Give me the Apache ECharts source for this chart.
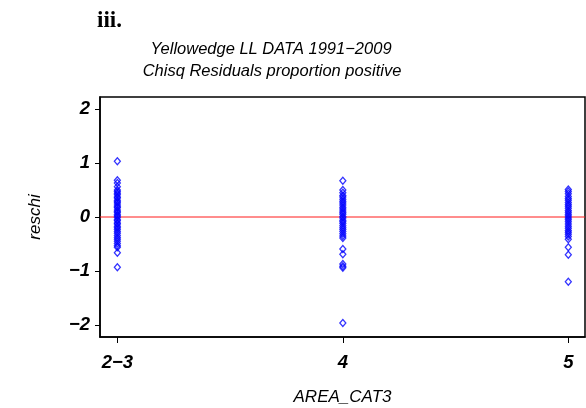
<!DOCTYPE html>
<html>
<head>
<meta charset="utf-8">
<script src="https://cdn.jsdelivr.net/npm/echarts@6/dist/echarts.min.js"></script>
<style>
  html, body { margin: 0; padding: 0; background: #fff; }
  #main { width: 586px; height: 408px; }
</style>
</head>
<body>
<div id="main"></div>
<script>
// area categories on the x axis
var categories = ['2\u22123', '4', '5'];
var yTicks = [-2, -1, 0, 1, 2];

// chi-square residuals, one list per area
var resid23 = [1.03, 0.68, 0.63, 0.56, 0.50, 0.47, 0.44, 0.41, 0.37, 0.35, 0.31, 0.28, 0.26, 0.22,
    0.19, 0.17, 0.13, 0.10, 0.08, 0.04, 0.02, -0.01, -0.05, -0.07, -0.11, -0.13, -0.17, -0.20,
    -0.23, -0.27, -0.30, -0.34, -0.38, -0.41, -0.45, -0.49, -0.53, -0.56, -0.66, -0.93];
var resid4 = [0.67, 0.50, 0.45, 0.40, 0.37, 0.33, 0.29, 0.26, 0.22, 0.18, 0.15, 0.11, 0.08, 0.05,
    0.01, -0.02, -0.06, -0.09, -0.12, -0.16, -0.20, -0.23, -0.27, -0.31, -0.35, -0.39,
    -0.59, -0.69, -0.87, -0.91, -0.94, -1.96];
var resid5 = [0.51, 0.47, 0.43, 0.38, 0.34, 0.31, 0.27, 0.23, 0.20, 0.16, 0.12, 0.09, 0.05, 0.02,
    -0.02, -0.05, -0.09, -0.13, -0.17, -0.21, -0.25, -0.28, -0.32, -0.36, -0.41,
    -0.56, -0.70, -1.20];

var groups = [resid23, resid4, resid5];
var points = [];
groups.forEach(function (g, i) {
    g.forEach(function (v) { points.push([i, v]); });
});

// axis extents (categories sit at 0, 1, 2)
var xMin = -0.077, xMax = 2.074;
var yMin = -2.22, yMax = 2.22;
var refLevel = 0;

function minus(v) {
    return v < 0 ? '\u2212' + Math.abs(v) : String(v);
}

var labelFont = {
    fontFamily: 'Liberation Sans',
    fontStyle: 'italic',
    fontWeight: 'bold',
    fontSize: 18.5,
    color: '#000'
};
var titleFont = {
    fontFamily: 'Liberation Sans', fontStyle: 'italic', fontWeight: 'normal', fontSize: 16.5, color: '#000'
};

var myChart = echarts.init(document.getElementById('main'));
var option = {
    animation: false,
    backgroundColor: '#fff',
    title: [
        {
            text: 'iii.',
            left: 92, top: 5,
            textStyle: { fontFamily: 'Liberation Serif', fontWeight: 'bold', fontSize: 23, color: '#000' }
        },
        {
            text: 'Yellowedge LL DATA 1991\u22122009',
            left: 266, top: 36, textAlign: 'center',
            textStyle: titleFont
        },
        {
            text: 'Chisq Residuals proportion positive',
            left: 267, top: 58, textAlign: 'center',
            textStyle: titleFont
        }
    ],
    grid: {
        left: 100, right: 1, top: 97, bottom: 71,
        outerBoundsMode: 'none',
        containLabel: false,
        show: true, borderColor: '#000', borderWidth: 1.5, backgroundColor: '#fff'
    },
    xAxis: {
        type: 'value',
        min: xMin, max: xMax,
        name: 'AREA_CAT3',
        nameLocation: 'middle',
        nameGap: 52,
        nameTextStyle: { fontFamily: 'Liberation Sans', fontStyle: 'italic', fontSize: 17, color: '#000' },
        splitLine: { show: false },
        axisLine: { show: true, onZero: false, lineStyle: { color: '#000', width: 1.5 } },
        axisTick: { show: true, length: 6, customValues: [0, 1, 2], lineStyle: { color: '#000', width: 1 } },
        axisLabel: Object.assign({
            customValues: [0, 1, 2],
            margin: 16,
            formatter: function (v) { return categories[Math.round(v)]; }
        }, labelFont)
    },
    yAxis: {
        type: 'value',
        min: yMin, max: yMax,
        name: 'reschi',
        nameLocation: 'middle',
        nameGap: 56,
        nameRotate: 90,
        nameTextStyle: { fontFamily: 'Liberation Sans', fontStyle: 'italic', fontSize: 17, color: '#000' },
        splitLine: { show: false },
        axisLine: { show: true, onZero: false, lineStyle: { color: '#000', width: 1.5 } },
        axisTick: { show: true, length: 5, customValues: yTicks, lineStyle: { color: '#000', width: 1 } },
        axisLabel: Object.assign({
            customValues: yTicks,
            margin: 10,
            formatter: minus
        }, labelFont)
    },
    series: [
        {
            // zero reference line
            type: 'line',
            data: [[xMin, refLevel], [xMax, refLevel]],
            symbol: 'none',
            silent: true,
            lineStyle: { color: '#ff1a1a', width: 1 },
            z: 2
        },
        {
            type: 'scatter',
            data: points,
            symbol: 'diamond',
            symbolSize: [6, 7],
            itemStyle: { color: 'rgba(0,0,0,0)', borderColor: '#0000ff', borderWidth: 1.3 },
            z: 3
        }
    ]
};
myChart.setOption(option);
</script>
</body>
</html>
